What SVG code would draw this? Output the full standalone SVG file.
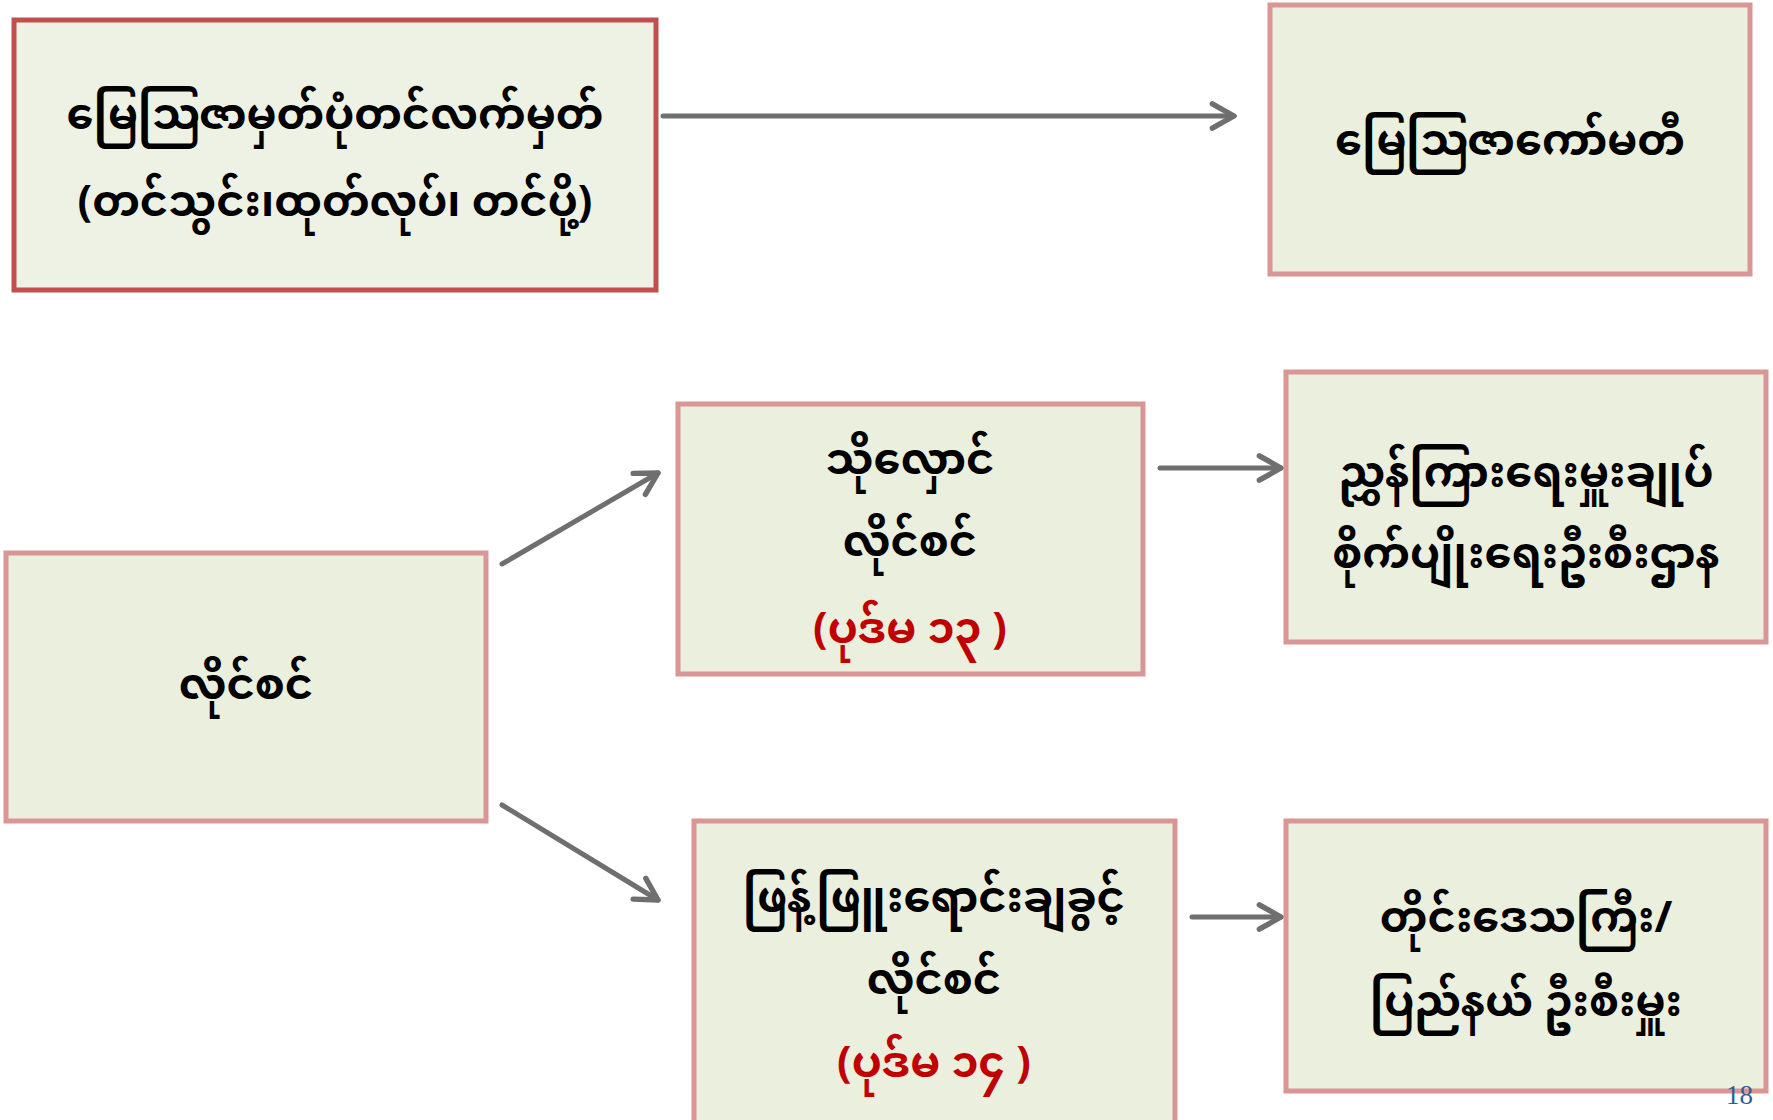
<svg xmlns="http://www.w3.org/2000/svg" width="1773" height="1120" viewBox="0 0 1773 1120">
<style>
.box{fill:#ebefdd;stroke:#d99694;stroke-width:5}
.box1{fill:#eef2e4;stroke:#c0504d;stroke-width:5}
.t{font-family:"Noto Sans Myanmar","Padauk","Myanmar Text","Noto Sans","DejaVu Sans",sans-serif;font-size:43px;font-weight:bold;fill:#000;text-anchor:middle;dominant-baseline:central}
.red{fill:#c00000}
.conn{stroke:#6f6f6f;stroke-width:5;fill:none;stroke-linecap:round}
.pg{font-family:"Liberation Serif","DejaVu Serif",serif;font-size:27px;fill:#2e5d8e}
</style>
<defs>
<marker id="arr" viewBox="0 0 12 12" refX="10" refY="6" markerWidth="6.5" markerHeight="6.5" orient="auto" markerUnits="strokeWidth">
<path d="M2,1.5 L10,6 L2,10.5" fill="none" stroke="#6f6f6f" stroke-width="2" stroke-linecap="round" stroke-linejoin="round"/>
</marker>
</defs>
<rect width="1773" height="1120" fill="#fff"/>
<g id="connectors">
<line class="conn" x1="663" y1="116" x2="1234" y2="116" marker-end="url(#arr)"/>
<line class="conn" x1="502" y1="564" x2="658" y2="473" marker-end="url(#arr)"/>
<line class="conn" x1="502" y1="805" x2="658" y2="900" marker-end="url(#arr)"/>
<line class="conn" x1="1160" y1="468" x2="1281" y2="468" marker-end="url(#arr)"/>
<line class="conn" x1="1192" y1="917" x2="1281" y2="917" marker-end="url(#arr)"/>
</g>
<g id="node-certificate">
<rect class="box1" x="14" y="20" width="642" height="270"/>
<text class="t" x="335" y="119">မြေဩဇာမှတ်ပုံတင်လက်မှတ်</text>
<text class="t" x="335" y="206">(တင်သွင်း၊ထုတ်လုပ်၊ တင်ပို့)</text>
</g>
<g id="node-committee">
<rect class="box" x="1270" y="5" width="480" height="269"/>
<text class="t" x="1510" y="145">မြေဩဇာကော်မတီ</text>
</g>
<g id="node-license">
<rect class="box" x="6" y="553" width="480" height="268"/>
<text class="t" x="246" y="689">လိုင်စင်</text>
</g>
<g id="node-storage">
<rect class="box" x="678" y="404" width="465" height="270"/>
<text class="t" x="910" y="464">သိုလှောင်</text>
<text class="t" x="910" y="546">လိုင်စင်</text>
<text class="t red" x="910" y="633">(ပုဒ်မ ၁၃ )</text>
</g>
<g id="node-director">
<rect class="box" x="1286" y="372" width="480" height="270"/>
<text class="t" x="1526" y="477">ညွှန်ကြားရေးမှူးချုပ်</text>
<text class="t" x="1526" y="558">စိုက်ပျိုးရေးဦးစီးဌာန</text>
</g>
<g id="node-distribution">
<rect class="box" x="694" y="821" width="481" height="305"/>
<text class="t" x="934" y="902">ဖြန့်ဖြူးရောင်းချခွင့်</text>
<text class="t" x="934" y="984">လိုင်စင်</text>
<text class="t red" x="934" y="1067">(ပုဒ်မ ၁၄ )</text>
</g>
<g id="node-region">
<rect class="box" x="1286" y="821" width="480" height="270"/>
<text class="t" x="1526" y="922">တိုင်းဒေသကြီး/</text>
<text class="t" x="1526" y="1006">ပြည်နယ် ဦးစီးမှူး</text>
</g>
<text class="pg" x="1726" y="1104">18</text>
</svg>
